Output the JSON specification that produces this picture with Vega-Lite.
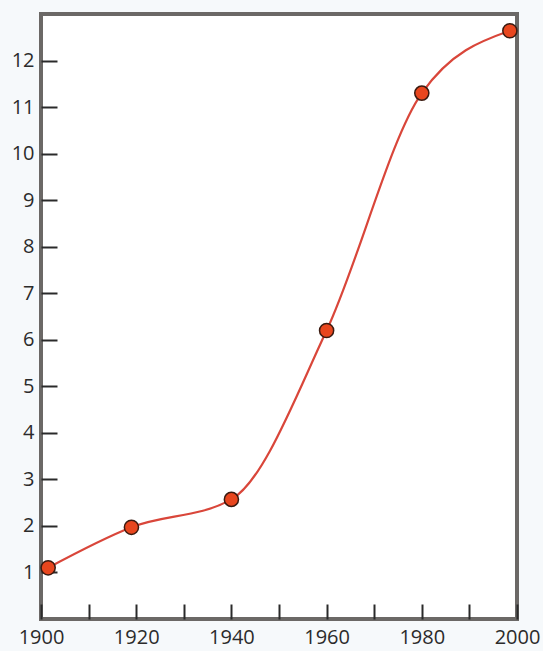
{
  "$schema": "https://vega.github.io/schema/vega-lite/v6.json",
  "width": 476,
  "height": 605,
  "autosize": {"type": "none"},
  "padding": {"left": 41, "top": 14, "right": 26, "bottom": 32},
  "background": "#f6f9fb",
  "config": {
    "view": {"fill": "#ffffff", "stroke": "#6b6866", "strokeWidth": 4},
    "axis": {"labelFont": "Open Sans", "labelFontSize": 20, "labelColor": "#2b2b2b", "grid": false, "domain": false, "tickColor": "#2a2a2a", "tickWidth": 2}
  },
  "data": {"values": [
    {"year": 1901.5, "value": 1.1},
    {"year": 1919, "value": 1.97},
    {"year": 1940, "value": 2.57},
    {"year": 1960, "value": 6.2},
    {"year": 1980, "value": 11.3},
    {"year": 1998.5, "value": 12.64}
  ]},
  "encoding": {
    "x": {"field": "year", "type": "quantitative", "scale": {"domain": [1900, 2000], "nice": false, "zero": false},
      "axis": {"title": null, "values": [1900,1910,1920,1930,1940,1950,1960,1970,1980,1990,2000], "format": "d", "labelExpr": "datum.value % 20 == 0 ? datum.label : ''", "tickSize": -15, "labelPadding": 23, "labelFlush": false}},
    "y": {"field": "value", "type": "quantitative", "scale": {"domain": [0, 13], "nice": false},
      "axis": {"title": null, "values": [1,2,3,4,5,6,7,8,9,10,11,12], "tickSize": -16, "labelPadding": 23}}
  },
  "layer": [
    {"mark": {"type": "line", "interpolate": "monotone", "color": "#d9463a", "strokeWidth": 2.2}},
    {"mark": {"type": "point", "filled": true, "fill": "#e8461e", "stroke": "#3a1a10", "strokeWidth": 1.5, "size": 200, "opacity": 1}}
  ]
}
